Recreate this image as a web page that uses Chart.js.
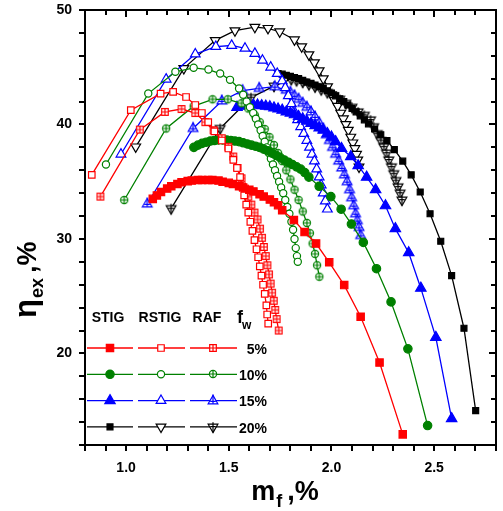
<!DOCTYPE html>
<html>
<head>
<meta charset="utf-8">
<script src="https://cdn.jsdelivr.net/npm/chart.js@4.4.0/dist/chart.umd.min.js"></script>
<style>
  html, body { margin: 0; padding: 0; background: #fff; }
  canvas { display: block; }
</style>
</head>
<body>
<canvas id="myChart" width="503" height="511"></canvas>
<script>
// exergy efficiency (%) against fuel fraction mf (%)
const fwLabels = ['5%', '10%', '15%', '20%'];
const typeLabels = ['STIG', 'RSTIG', 'RAF'];
const xTickLabels = [1.0, 1.5, 2.0, 2.5];
const yTickLabels = [20, 30, 40, 50];

// fw = 5%
const stig5 = [[1.13,33.5],[1.15,33.8],[1.17,34.1],[1.20,34.4],[1.22,34.6],[1.25,34.8],[1.27,34.95],[1.30,35.05],[1.32,35.1],[1.35,35.15],[1.37,35.15],[1.40,35.15],[1.42,35.15],[1.45,35.1],[1.47,35.0],[1.50,34.9],[1.52,34.8],[1.55,34.6],[1.57,34.5],[1.60,34.3],[1.62,34.15],[1.65,33.9],[1.67,33.7],[1.70,33.45],[1.72,33.2],[1.74,32.95],[1.76,32.5],[1.817,31.65],[1.869,30.6],[1.925,29.6],[1.989,27.96],[2.062,25.97],[2.142,23.2],[2.234,19.2],[2.347,12.93]];
const rstig5 = [[0.833,35.6],[1.023,41.25],[1.168,42.7],[1.229,42.85],[1.292,42.4],[1.337,41.7],[1.369,41.0],[1.40,40.2],[1.43,39.4],[1.466,38.6],[1.498,37.9],[1.522,36.9],[1.54,36.2],[1.555,35.4],[1.565,34.6],[1.575,33.8],[1.585,33.0],[1.595,32.3],[1.605,31.5],[1.615,30.7],[1.625,29.9],[1.635,29.1],[1.643,28.4],[1.651,27.6],[1.659,26.8],[1.667,26.0],[1.675,25.2],[1.683,24.2],[1.687,23.4],[1.692,22.6]];
const raf5 = [[0.875,33.7],[1.067,39.55],[1.189,41.1],[1.27,41.35],[1.337,41.0],[1.386,40.2],[1.426,39.5],[1.466,38.8],[1.498,38.05],[1.522,37.2],[1.543,36.2],[1.562,35.3],[1.579,34.4],[1.595,33.7],[1.61,33.0],[1.625,32.3],[1.64,31.7],[1.652,30.9],[1.662,30.1],[1.671,29.3],[1.68,28.5],[1.688,27.7],[1.696,26.9],[1.704,26.1],[1.711,25.3],[1.719,24.6],[1.726,23.8],[1.733,23.0],[1.743,22.0]];

// fw = 10%
const stig10 = [[1.33,38.0],[1.35,38.2],[1.37,38.35],[1.39,38.45],[1.41,38.55],[1.43,38.6],[1.45,38.65],[1.47,38.65],[1.49,38.65],[1.51,38.6],[1.53,38.55],[1.55,38.5],[1.57,38.4],[1.59,38.3],[1.61,38.2],[1.63,38.1],[1.65,38.0],[1.67,37.85],[1.69,37.7],[1.71,37.5],[1.73,37.3],[1.75,37.1],[1.77,36.9],[1.79,36.7],[1.81,36.5],[1.83,36.3],[1.85,36.1],[1.87,35.8],[1.89,35.4],[1.94,34.6],[1.997,33.7],[2.047,32.6],[2.097,31.3],[2.155,29.7],[2.219,27.4],[2.29,24.5],[2.372,20.4],[2.468,13.7]];
const rstig10 = [[0.902,36.5],[1.108,42.7],[1.24,44.6],[1.329,44.95],[1.401,44.8],[1.458,44.45],[1.506,43.9],[1.55,43.15],[1.57,42.6],[1.587,42.0],[1.603,41.5],[1.619,41.0],[1.632,40.5],[1.643,40.0],[1.655,39.5],[1.665,39.0],[1.675,38.5],[1.685,38.0],[1.695,37.5],[1.705,37.0],[1.715,36.5],[1.725,36.0],[1.735,35.5],[1.745,35.0],[1.755,34.5],[1.765,34.0],[1.775,33.4],[1.785,32.8],[1.795,32.2],[1.805,31.5],[1.813,30.8],[1.82,30.0],[1.826,29.2],[1.832,28.5],[1.836,28.0]];
const raf10 = [[0.991,33.4],[1.195,39.65],[1.329,41.6],[1.421,42.2],[1.495,42.2],[1.562,41.85],[1.595,41.4],[1.627,40.8],[1.651,40.2],[1.675,39.6],[1.698,38.9],[1.72,38.2],[1.74,37.5],[1.76,36.8],[1.78,36.0],[1.80,35.2],[1.82,34.3],[1.84,33.4],[1.86,32.4],[1.88,31.4],[1.895,30.5],[1.908,29.6],[1.92,28.7],[1.93,27.7],[1.941,26.7]];

// fw = 15%
const stig15 = [[1.54,41.5],[1.56,41.6],[1.58,41.65],[1.60,41.7],[1.62,41.7],[1.64,41.7],[1.66,41.65],[1.68,41.6],[1.70,41.55],[1.72,41.45],[1.74,41.35],[1.76,41.25],[1.78,41.1],[1.80,41.0],[1.82,40.85],[1.84,40.7],[1.86,40.5],[1.88,40.3],[1.90,40.1],[1.92,39.9],[1.94,39.7],[1.96,39.5],[1.98,39.2],[2.00,38.9],[2.02,38.5],[2.049,37.9],[2.094,37.2],[2.13,36.4],[2.171,35.4],[2.215,34.3],[2.263,32.9],[2.311,30.9],[2.376,28.8],[2.435,25.7],[2.508,21.4],[2.585,14.3]];
const rstig15 = [[0.975,37.4],[1.195,43.95],[1.337,46.15],[1.437,46.8],[1.514,46.9],[1.579,46.65],[1.627,46.2],[1.664,45.6],[1.704,45.0],[1.736,44.45],[1.76,43.8],[1.775,43.2],[1.79,42.5],[1.805,41.8],[1.82,41.1],[1.835,40.4],[1.85,39.8],[1.865,39.2],[1.88,38.6],[1.893,38.0],[1.905,37.4],[1.917,36.8],[1.928,36.1],[1.94,35.4],[1.95,34.7],[1.96,34.0],[1.97,33.3],[1.98,32.6]];
const raf15 = [[1.103,33.05],[1.326,39.65],[1.466,42.05],[1.567,42.95],[1.648,43.15],[1.724,43.3],[1.78,43.0],[1.80,42.8],[1.82,42.5],[1.84,42.2],[1.86,41.85],[1.88,41.5],[1.90,41.1],[1.92,40.65],[1.94,40.15],[1.96,39.6],[1.975,39.1],[1.99,38.6],[2.005,38.0],[2.02,37.4],[2.035,36.8],[2.05,36.2],[2.063,35.6],[2.076,35.0],[2.088,34.3],[2.098,33.6],[2.108,32.9],[2.117,32.2],[2.126,31.6],[2.134,31.0],[2.142,30.3]];

// fw = 20%
const stig20 = [[1.74,44.45],[1.76,44.4],[1.78,44.3],[1.80,44.2],[1.82,44.1],[1.84,44.0],[1.86,43.85],[1.88,43.7],[1.90,43.6],[1.92,43.45],[1.94,43.3],[1.96,43.15],[1.98,42.95],[2.00,42.75],[2.02,42.5],[2.04,42.25],[2.06,42.0],[2.08,41.7],[2.10,41.4],[2.12,41.1],[2.14,40.75],[2.16,40.4],[2.18,40.05],[2.21,39.6],[2.24,39.1],[2.27,38.6],[2.306,37.8],[2.347,36.8],[2.388,35.6],[2.432,34.1],[2.48,32.2],[2.532,29.8],[2.585,26.8],[2.645,22.2],[2.702,15.0]];
const rstig20 = [[1.047,38.05],[1.281,44.9],[1.434,47.35],[1.53,48.2],[1.627,48.5],[1.691,48.4],[1.748,48.1],[1.82,47.4],[1.855,46.8],[1.89,46.1],[1.917,45.4],[1.94,44.7],[1.96,44.0],[1.981,43.3],[2.0,42.6],[2.015,42.1],[2.03,41.6],[2.045,41.0],[2.058,40.5],[2.07,40.0],[2.082,39.5],[2.094,38.9],[2.104,38.4],[2.114,37.9],[2.122,37.4],[2.128,36.9],[2.134,36.3]];
const raf20 = [[1.219,32.65],[1.458,39.65],[1.608,42.35],[1.72,43.35],[1.804,43.95],[1.83,43.85],[1.86,43.7],[1.89,43.5],[1.92,43.3],[1.95,43.05],[1.98,42.8],[2.01,42.5],[2.04,42.2],[2.07,41.85],[2.10,41.5],[2.13,41.1],[2.16,40.8],[2.19,40.4],[2.205,39.8],[2.223,39.2],[2.24,38.6],[2.255,38.05],[2.268,37.5],[2.279,36.9],[2.292,36.3],[2.303,35.7],[2.314,35.1],[2.324,34.55],[2.334,34.0],[2.343,33.4]];

const colors = ['#ff0000', '#008000', '#0000ff', '#000000'];
const FONT = '"Liberation Sans", Arial, sans-serif';

// open marker with a plus inside, drawn once to a small canvas
function crossMarker(shape, color, r) {
    const s = 2 * Math.ceil(r) + 6;
    const c = document.createElement('canvas');
    c.width = s; c.height = s;
    const g = c.getContext('2d');
    const m = s / 2;
    g.lineWidth = 1.2;
    g.strokeStyle = color;
    g.fillStyle = '#fff';
    g.beginPath();
    if (shape === 'rect') {
        g.rect(m - r, m - r, 2 * r, 2 * r);
    } else if (shape === 'circle') {
        g.arc(m, m, r, 0, Math.PI * 2);
    } else if (shape === 'triangle') {
        g.moveTo(m, m - r); g.lineTo(m + r * 0.866, m + r * 0.5); g.lineTo(m - r * 0.866, m + r * 0.5); g.closePath();
    } else {
        g.moveTo(m, m + r); g.lineTo(m + r * 0.866, m - r * 0.5); g.lineTo(m - r * 0.866, m - r * 0.5); g.closePath();
    }
    g.fill(); g.stroke();
    g.beginPath();
    if (shape === 'rect' || shape === 'circle') {
        g.moveTo(m - r, m); g.lineTo(m + r, m);
        g.moveTo(m, m - r); g.lineTo(m, m + r);
    } else if (shape === 'triangle') {
        g.moveTo(m, m - r - 1); g.lineTo(m, m + r * 0.5);
        g.moveTo(m - r * 0.5, m + r * 0.05); g.lineTo(m + r * 0.5, m + r * 0.05);
    } else {
        g.moveTo(m, m - r * 0.5 - 2); g.lineTo(m, m + r);
        g.moveTo(m - r * 0.5, m - r * 0.05); g.lineTo(m + r * 0.5, m - r * 0.05);
    }
    g.stroke();
    return c;
}

const stigStyles = [
    { pointStyle: 'rect', radius: 5.2, rotation: 0 },
    { pointStyle: 'circle', radius: 4.2, rotation: 0 },
    { pointStyle: 'triangle', radius: 6, rotation: 0 },
    { pointStyle: 'rect', radius: 4.2, rotation: 0 }
];
const rstigStyles = [
    { pointStyle: 'rect', radius: 4.6, rotation: 0 },
    { pointStyle: 'circle', radius: 3.6, rotation: 0 },
    { pointStyle: 'triangle', radius: 5.6, rotation: 0 },
    { pointStyle: 'triangle', radius: 5.6, rotation: 180 }
];
const rafShapes = [['rect', 3.3], ['circle', 3.6], ['triangle', 5.6], ['dtriangle', 5.6]];

const groups = [
    [stig5, rstig5, raf5],
    [stig10, rstig10, raf10],
    [stig15, rstig15, raf15],
    [stig20, rstig20, raf20]
];

const legendRows = [];
const datasets = [];
groups.forEach((g, i) => {
    const col = colors[i];
    const rafImg = crossMarker(rafShapes[i][0], col, rafShapes[i][1]);
    const kinds = [
        { st: stigStyles[i], bg: col, data: g[0] },
        { st: rstigStyles[i], bg: '#fff', data: g[1] },
        { st: { pointStyle: rafImg, radius: 4, rotation: 0 }, bg: '#fff', data: g[2] }
    ];
    legendRows.push({ color: col, kinds: kinds });
    kinds.forEach((k, j) => {
        datasets.push({
            label: typeLabels[j] + ' ' + fwLabels[i],
            data: k.data.map(p => ({ x: p[0], y: p[1] })),
            borderColor: col,
            borderWidth: 1.3,
            backgroundColor: k.bg,
            pointStyle: k.st.pointStyle,
            pointRadius: k.st.radius,
            pointRotation: k.st.rotation,
            pointBorderColor: col,
            pointBackgroundColor: k.bg,
            pointBorderWidth: 1.2,
            tension: 0,
            fill: false
        });
    });
});

function near(v, list) {
    return list.some(t => Math.abs(v - t) < 1e-6);
}

function drawMarker(ctx, st, color, bg, x, y) {
    if (typeof st.pointStyle === 'object') {
        const im = st.pointStyle;
        ctx.drawImage(im, Math.round(x - im.width / 2), Math.round(y - im.height / 2));
        return;
    }
    ctx.fillStyle = bg;
    ctx.strokeStyle = color;
    ctx.lineWidth = 1.2;
    Chart.helpers.drawPoint(ctx, { pointStyle: st.pointStyle, radius: st.radius, rotation: st.rotation, borderWidth: 1.2 }, x, y);
}

// opaque white page under everything
const bgPlugin = {
    id: 'whitebg',
    beforeDraw(chart) {
        const ctx = chart.ctx;
        ctx.save();
        ctx.fillStyle = '#ffffff';
        ctx.fillRect(0, 0, chart.width, chart.height);
        ctx.restore();
    }
};

// top and right edges of the box, with inward ticks
const mirrorPlugin = {
    id: 'mirror',
    afterDatasetsDraw(chart) {
        const ctx = chart.ctx, a = chart.chartArea;
        const xs = chart.scales.x, ys = chart.scales.y;
        const L = Math.round(a.left), R = Math.round(a.right), T = Math.round(a.top), B = Math.round(a.bottom);
        ctx.save();
        ctx.fillStyle = '#000';
        ctx.fillRect(L - 1, T - 1, R - L + 2, 2);
        ctx.fillRect(R - 1, T - 1, 2, B - T + 2);
        for (let i = 9; i <= 27; i++) {
            const v = i / 10;
            const px = Math.round(xs.getPixelForValue(v));
            ctx.fillRect(px - 1, T, 2, near(v, xTickLabels) ? 7 : 5);
        }
        for (let v = 14; v <= 48; v += 2) {
            const py = Math.round(ys.getPixelForValue(v));
            const len = near(v, yTickLabels) ? 7 : 5;
            ctx.fillRect(R - len, py - 1, len, 2);
        }
        ctx.restore();
    }
};

// in-plot legend and axis titles with subscripts
const textPlugin = {
    id: 'legendtitles',
    afterDraw(chart) {
        const ctx = chart.ctx, a = chart.chartArea;
        ctx.save();
        const L = a.left, T = a.top;
        ctx.fillStyle = '#000';
        ctx.textBaseline = 'alphabetic';
        ctx.textAlign = 'center';
        ctx.font = 'bold 14px ' + FONT;
        const hy = T + 312;
        ctx.fillText(typeLabels[0], L + 23, hy);
        ctx.fillText(typeLabels[1], L + 75, hy);
        ctx.fillText(typeLabels[2], L + 122, hy);
        ctx.textAlign = 'left';
        ctx.font = 'bold 18px ' + FONT;
        ctx.fillText('f', L + 152, hy + 1);
        ctx.font = 'bold 12px ' + FONT;
        ctx.fillText('w', L + 157, hy + 7);

        const segs = [[2, 48, 25], [53, 100, 76], [105, 152, 128]];
        legendRows.forEach((row, i) => {
            const y = T + 338 + i * 26.3;
            ctx.strokeStyle = row.color;
            ctx.lineWidth = 1.3;
            segs.forEach(s => {
                ctx.beginPath();
                ctx.moveTo(L + s[0], y); ctx.lineTo(L + s[1], y);
                ctx.stroke();
            });
            row.kinds.forEach((k, j) => drawMarker(ctx, k.st, row.color, k.bg, L + segs[j][2], y));
            ctx.fillStyle = '#000';
            ctx.textAlign = 'right';
            ctx.textBaseline = 'middle';
            ctx.font = 'bold 14px ' + FONT;
            ctx.fillText(fwLabels[i], L + 182, y + 2);
            ctx.textBaseline = 'alphabetic';
        });

        ctx.fillStyle = '#000';
        ctx.textAlign = 'left';
        ctx.textBaseline = 'alphabetic';
        const big = 'bold 27px ' + FONT, small = 'bold 18px ' + FONT;
        ctx.font = big;
        const wm = ctx.measureText('m').width, wp = ctx.measureText(',%').width;
        ctx.font = small;
        const wf = ctx.measureText('f').width;
        let x = 285 - (wm + wf + 6 + wp) / 2;
        const base = 500;
        ctx.font = big; ctx.fillText('m', x, base); x += wm + 1;
        ctx.font = small; ctx.fillText('f', x, base + 7); x += wf + 5;
        ctx.font = big; ctx.fillText(',%', x, base);

        ctx.translate(36, 318);
        ctx.rotate(-Math.PI / 2);
        let t = 0;
        ctx.font = 'bold 31px ' + FONT; ctx.fillText('\u03b7', t, 0); t += ctx.measureText('\u03b7').width + 1;
        ctx.font = small; ctx.fillText('ex', t, 7); t += ctx.measureText('ex').width + 5;
        ctx.font = big; ctx.fillText(',%', t, 0);
        ctx.restore();
    }
};

function zeroPad(s) {
    s.paddingTop = 0; s.paddingBottom = 0; s.paddingLeft = 0; s.paddingRight = 0;
}

const tickFont = { family: FONT, weight: 'bold', size: 14 };

const config = {
    type: 'line',
    data: { datasets: datasets },
    options: {
        responsive: false,
        animation: false,
        layout: { padding: { top: 10, right: 3, left: 0, bottom: 0 } },
        plugins: { legend: { display: false }, tooltip: { enabled: false } },
        scales: {
            x: {
                type: 'linear', position: 'bottom', min: 0.8, max: 2.8,
                grid: { drawOnChartArea: false, color: '#000', lineWidth: 2, tickLength: 6 },
                border: { display: true, color: '#000', width: 2 },
                ticks: {
                    stepSize: 0.1, autoSkip: false, maxRotation: 0, padding: 9, color: '#000',
                    font: tickFont,
                    callback: v => near(v, xTickLabels) ? v.toFixed(1) : ''
                },
                afterFit: s => { s.height = 66; zeroPad(s); }
            },
            y: {
                type: 'linear', position: 'left', min: 12, max: 50,
                grid: { drawOnChartArea: false, color: '#000', lineWidth: 2, tickLength: 6 },
                border: { display: true, color: '#000', width: 2 },
                ticks: {
                    stepSize: 2, autoSkip: false, padding: 7, color: '#000',
                    font: tickFont,
                    callback: v => near(v, yTickLabels) ? String(v) : ''
                },
                afterFit: s => { s.width = 85; zeroPad(s); }
            }
        }
    },
    plugins: [bgPlugin, mirrorPlugin, textPlugin]
};

const chart = new Chart(document.getElementById('myChart'), config);
</script>
</body>
</html>
